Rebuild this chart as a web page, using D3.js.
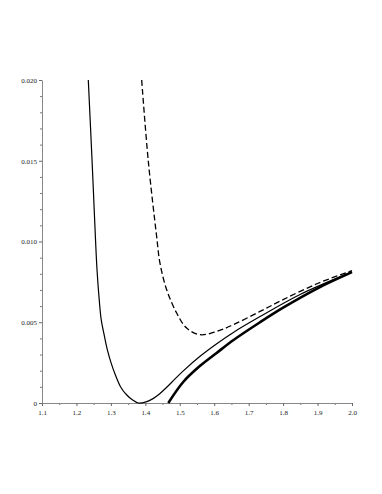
<!DOCTYPE html>
<html>
<head>
<meta charset="utf-8">
<script src="https://d3js.org/d3.v7.min.js"></script>
<style>
  body { margin: 0; background: white; }
  svg { display: block; }
  .tick text { font-family: "Liberation Serif", "DejaVu Serif", serif; font-size: 7px; fill: #222; }
</style>
</head>
<body>
<svg id="chart" width="382" height="494"></svg>
<script>
// x values and y values for the three curves
var thinX  = [1.2344, 1.2452, 1.2551, 1.2597, 1.2661, 1.2719, 1.2815, 1.2896, 1.3003, 1.3128, 1.3279, 1.3454, 1.3622, 1.3796,
              1.402, 1.4223, 1.4426, 1.4629, 1.4862, 1.5103, 1.5588, 1.6073, 1.6555, 1.7331, 1.8492, 2.0];
var thinY  = [0.0200, 0.01507, 0.01024, 0.00825, 0.0064, 0.00516, 0.00411, 0.0033, 0.0025, 0.00175, 0.00101, 0.00051, 0.0002, 0.0,
              0.00007, 0.00027, 0.00059, 0.00099, 0.00149, 0.00199, 0.00289, 0.00367, 0.00437, 0.00535, 0.00672, 0.00812];

var dashX  = [1.3894, 1.4085, 1.4329, 1.4425, 1.462, 1.491, 1.52, 1.5588, 1.6073, 1.6555, 1.733, 1.80, 1.90, 2.0];
var dashY  = [0.0200, 0.0150, 0.0103, 0.00866, 0.00701, 0.00557, 0.00464, 0.00423, 0.00443, 0.00485, 0.00567, 0.0064, 0.0074, 0.0082];

var thickX = [1.4667, 1.51, 1.559, 1.607, 1.656, 1.733, 1.80, 1.90, 2.0];
var thickY = [0.0, 0.0013, 0.0023, 0.0031, 0.0039, 0.0050, 0.0059, 0.0071, 0.0081];

var xTicks = [1.1, 1.2, 1.3, 1.4, 1.5, 1.6, 1.7, 1.8, 1.9, 2.0];
var yTicks = [0, 0.005, 0.010, 0.015, 0.020];

var svg = d3.select("#chart");

var x = d3.scaleLinear().domain([1.1, 2.0]).range([42, 352]);
var y = d3.scaleLinear().domain([0, 0.020]).range([403, 80]);

// minor ticks first so major ones sit on top
var xMinor = d3.range(1.15, 2.0, 0.1);
var yMinor = d3.range(0, 0.0201, 0.001).filter(function(v) { return Math.round(v * 1000) % 5 != 0; });

svg.append("g")
  .attr("transform", "translate(0,403)")
  .call(d3.axisBottom(x).tickValues(xMinor).tickSize(2).tickFormat(""))
  .call(function(g) { g.select(".domain").remove(); g.selectAll("line").attr("stroke", "#777"); });

svg.append("g")
  .attr("transform", "translate(42,0)")
  .call(d3.axisLeft(y).tickValues(yMinor).tickSize(2).tickFormat(""))
  .call(function(g) { g.select(".domain").remove(); g.selectAll("line").attr("stroke", "#777"); });

var xAxis = svg.append("g")
  .attr("transform", "translate(0,403)")
  .call(d3.axisBottom(x).tickValues(xTicks).tickSize(3).tickSizeOuter(0).tickPadding(4).tickFormat(d3.format(".1f")));
xAxis.select(".domain").attr("stroke", "#888");
xAxis.selectAll("line").attr("stroke", "#666");

var yAxis = svg.append("g")
  .attr("transform", "translate(42,0)")
  .call(d3.axisLeft(y).tickValues(yTicks).tickSize(3).tickSizeOuter(0).tickPadding(2)
    .tickFormat(function(d) { return d == 0 ? "0" : d3.format(".3f")(d); }));
yAxis.select(".domain").attr("stroke", "#888");
yAxis.selectAll("line").attr("stroke", "#666");

var line = d3.line()
  .x(function(d) { return x(d[0]); })
  .y(function(d) { return y(d[1]); })
  .curve(d3.curveCatmullRom.alpha(0.5));

svg.append("path")
  .datum(d3.zip(thinX, thinY))
  .attr("d", line)
  .attr("fill", "none")
  .attr("stroke", "#000")
  .attr("stroke-width", 1.2);

svg.append("path")
  .datum(d3.zip(dashX, dashY))
  .attr("d", line)
  .attr("fill", "none")
  .attr("stroke", "#000")
  .attr("stroke-width", 1.3)
  .attr("stroke-dasharray", "6,3");

svg.append("path")
  .datum(d3.zip(thickX, thickY))
  .attr("d", line)
  .attr("fill", "none")
  .attr("stroke", "#000")
  .attr("stroke-width", 2.6);
</script>
</body>
</html>
